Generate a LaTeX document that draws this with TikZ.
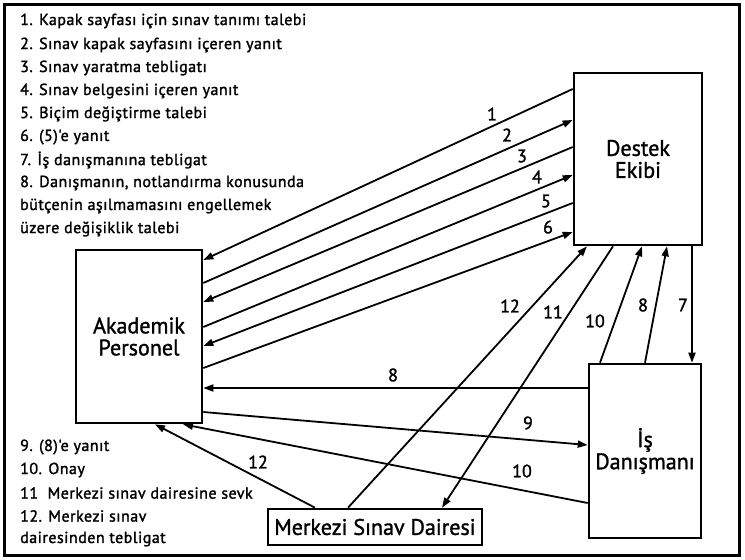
\documentclass[tikz,border=0pt]{standalone}
\usepackage{fontspec}
\setmainfont{PT Sans}
\newfontfamily\legfont{PT Sans}[FakeBold=1.6,LetterSpace=3]
\newfontfamily\lblfont{PT Sans}[FakeBold=1.6]
\newfontfamily\boxfont{PT Sans}[FakeStretch=0.98,FakeBold=1.3]
\usetikzlibrary{arrows.meta}
\tikzset{
  box/.style={draw,line width=2.6pt,fill=white,align=center,inner sep=0pt,font=\boxfont\fontsize{22.5}{22}\selectfont},
  conn/.style={line width=1.8pt,-{Triangle[length=10pt,width=7pt]}},
  lbl/.style={font=\lblfont\fontsize{18}{18}\selectfont,inner sep=0pt},
  legend/.style={font=\legfont\fontsize{16}{16}\selectfont,anchor=west,inner sep=0pt}
}
\begin{document}
\begin{tikzpicture}[x=1pt,y=-1pt]
\useasboundingbox (0,0) rectangle (745,560);
\draw[line width=3pt] (4.5,4.5) rectangle (739.5,555.5);

\node[box,minimum width=126pt,minimum height=173pt] (ak) at (139,336.5) {Akademik\\Personel};
\node[box,minimum width=128pt,minimum height=172pt] (dest) at (638,159) {Destek\\Ekibi};
\node[box,minimum width=112pt,minimum height=174pt] (is) at (645,451) {İş\\Danışmanı};
\node[box,minimum width=214pt,minimum height=36pt] (merk) at (375,527) {Merkezi Sınav Dairesi};

% legend top
\node[legend] (t1) at (20,21) {1. Kapak sayfası için sınav tanımı talebi};
\node[legend] (t2) at (20,45) {2. Sınav kapak sayfasını içeren yanıt};
\node[legend] (t3) at (20,68) {3. Sınav yaratma tebligatı};
\node[legend] (t4) at (20,91) {4. Sınav belgesini içeren yanıt};
\node[legend] (t5) at (20,114) {5. Biçim değiştirme talebi};
\node[legend] (t6) at (20,137) {6. (5)'e yanıt};
\node[legend] (t7) at (20,160) {7. İş danışmanına tebligat};
\node[legend] (t8) at (20,183) {8. Danışmanın, notlandırma konusunda};
\node[legend] (t8b) at (20,206) {bütçenin aşılmamasını engellemek};
\node[legend] (t8c) at (20,229) {üzere değişiklik talebi};
% legend bottom
\node[legend] (b9) at (20,447) {9. (8)'e yanıt};
\node[legend] (b10) at (20,470) {10. Onay};
\node[legend] (b11) at (20,493) {11\ \ Merkezi sınav dairesine sevk};
\node[legend] (b12) at (20,516) {12. Merkezi sınav};
\node[legend] (b12b) at (20,539) {dairesinden tebligat};

% arrows 1-6
\draw[conn] (dest.west |- 0,89) -- (ak.east |- 0,260);
\draw[conn] (ak.east |- 0,283) -- (dest.west |- 0,120);
\draw[conn] (dest.west |- 0,147) -- (ak.east |- 0,302);
\draw[conn] (ak.east |- 0,327) -- (dest.west |- 0,175);
\draw[conn] (dest.west |- 0,203) -- (ak.east |- 0,346);
\draw[conn] (ak.east |- 0,368) -- (dest.west |- 0,232);
\node[lbl] (l1) at (492,114) {1};
\node[lbl] (l2) at (507,135) {2};
\node[lbl] (l3) at (522,156) {3};
\node[lbl] (l4) at (537,177) {4};
\node[lbl] (l5) at (546,201) {5};
\node[lbl] (l6) at (548,227) {6};

% 8 and 9 and 10
\draw[conn] (is.west |- 0,388) -- (ak.east |- 0,388);
\node[lbl] (l8) at (393,375) {8};
\draw[conn] (ak.east |- 0,412) -- (is.west |- 0,445);
\node[lbl] (l9) at (528,423) {9};
\draw[conn] (is.west |- 0,503) -- (183,0 |- ak.south);
\node[lbl] (l10) at (522,471) {10};

% 12 from Merkezi
\draw[conn] (315,0 |- merk.north) -- (155,0 |- ak.south);
\node[lbl] (l12a) at (258,462) {12};
\draw[conn] (348,0 |- merk.north) -- (587,0 |- dest.south);
\node[lbl] (l12b) at (510,306) {12};
\draw[conn] (613,0 |- dest.south) -- (442,0 |- merk.north);
\node[lbl] (l11) at (553,312) {11};

% between Is and Destek
\draw[conn] (600,0 |- is.north) -- (642,0 |- dest.south);
\node[lbl] (l10u) at (595,321) {10};
\draw[conn] (645,0 |- is.north) -- (667,0 |- dest.south);
\node[lbl] (l8u) at (643,305) {8};
\draw[conn] (692,0 |- dest.south) -- (692,0 |- is.north);
\node[lbl] (l7) at (683,305) {7};
\end{tikzpicture}
\end{document}
